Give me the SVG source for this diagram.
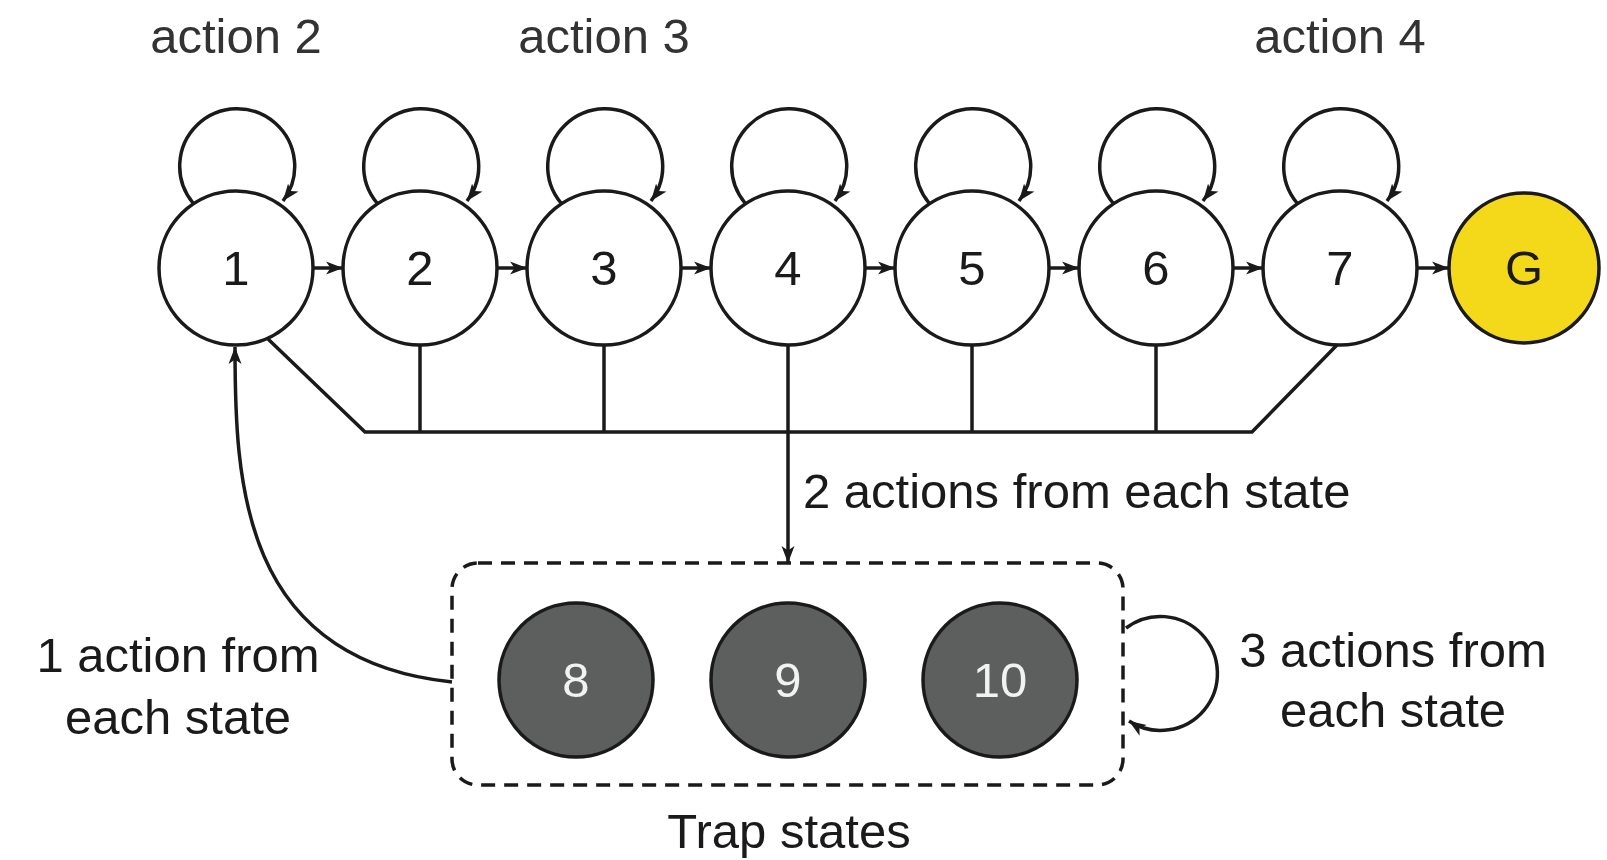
<svg xmlns="http://www.w3.org/2000/svg" width="1607" height="860" viewBox="0 0 1607 860">
<defs>
<marker id="arr" markerUnits="userSpaceOnUse" markerWidth="18" markerHeight="16" refX="17" refY="8" orient="auto" viewBox="0 0 18 16">
<path d="M0,1.5 L17,8 L0,14.5 L4.5,8 z" fill="#1a1a1a"/>
</marker>
<style>
.st{fill:#fff;stroke:#1a1a1a;stroke-width:3.5}
.goal{fill:#f4d81a;stroke:#1a1a1a;stroke-width:3.5}
.trap{fill:#5d5f5f;stroke:#1a1a1a;stroke-width:3.5}
.lbl{font-family:"Liberation Sans",Arial,sans-serif;font-size:49px;fill:#1a1a1a;text-anchor:middle}
.tl{font-family:"Liberation Sans",Arial,sans-serif;font-size:49px;fill:#f2f2f2;text-anchor:middle}
.txt{font-family:"Liberation Sans",Arial,sans-serif;font-size:49px;fill:#1a1a1a}
.top{font-family:"Liberation Sans",Arial,sans-serif;font-size:49px;fill:#333;text-anchor:middle}
.ln{fill:none;stroke:#1a1a1a;stroke-width:3.5}
.la{fill:none;stroke:#1a1a1a;stroke-width:3.5;marker-end:url(#arr)}
.box{fill:none;stroke:#1a1a1a;stroke-width:3.5;stroke-dasharray:14 9}
</style>
</defs>
<rect width="1607" height="860" fill="#fff"/>

<g id="top-labels">
<text class="top" x="236" y="53">action 2</text>
<text class="top" x="604" y="53">action 3</text>
<text class="top" x="1340" y="53">action 4</text>
</g>

<g id="connectors">
<path class="la" d="M193,203 A57.5,57.5 0 1 1 283,201"/>
<path class="la" d="M377,203 A57.5,57.5 0 1 1 467,201"/>
<path class="la" d="M561,203 A57.5,57.5 0 1 1 651,201"/>
<path class="la" d="M745,203 A57.5,57.5 0 1 1 835,201"/>
<path class="la" d="M929,203 A57.5,57.5 0 1 1 1019,201"/>
<path class="la" d="M1113,203 A57.5,57.5 0 1 1 1203,201"/>
<path class="la" d="M1297,203 A57.5,57.5 0 1 1 1387,201"/>
<path class="la" d="M313,268 L343,268"/>
<path class="la" d="M497,268 L527,268"/>
<path class="la" d="M681,268 L711,268"/>
<path class="la" d="M865,268 L895,268"/>
<path class="la" d="M1049,268 L1079,268"/>
<path class="la" d="M1233,268 L1263,268"/>
<path class="la" d="M1417,268 L1449,268"/>
<path class="ln" d="M268,339 L365,432 L1252,432 L1337,345"/>
<path class="ln" d="M420,345 L420,432"/>
<path class="ln" d="M604,345 L604,432"/>
<path class="ln" d="M972,345 L972,432"/>
<path class="ln" d="M1156,345 L1156,432"/>
<path class="la" d="M788,345 L788,563"/>
<path class="la" d="M452,682 C240,660 235,480 235,347"/>
<path class="la" d="M1126,628 A57,57 0 1 1 1129,721"/>
</g>

<g id="node-1"><circle class="st" cx="236" cy="268" r="77"/><text class="lbl" x="236" y="285">1</text></g>
<g id="node-2"><circle class="st" cx="420" cy="268" r="77"/><text class="lbl" x="420" y="285">2</text></g>
<g id="node-3"><circle class="st" cx="604" cy="268" r="77"/><text class="lbl" x="604" y="285">3</text></g>
<g id="node-4"><circle class="st" cx="788" cy="268" r="77"/><text class="lbl" x="788" y="285">4</text></g>
<g id="node-5"><circle class="st" cx="972" cy="268" r="77"/><text class="lbl" x="972" y="285">5</text></g>
<g id="node-6"><circle class="st" cx="1156" cy="268" r="77"/><text class="lbl" x="1156" y="285">6</text></g>
<g id="node-7"><circle class="st" cx="1340" cy="268" r="77"/><text class="lbl" x="1340" y="285">7</text></g>
<g id="node-G"><circle class="goal" cx="1524" cy="268" r="75"/><text class="lbl" x="1524" y="285">G</text></g>

<g id="trap-box">
<rect class="box" x="452" y="563" width="671" height="222" rx="26" ry="26"/>
<text class="lbl" x="789" y="848">Trap states</text>
</g>
<g id="node-8"><circle class="trap" cx="576" cy="680" r="77"/><text class="tl" x="576" y="697">8</text></g>
<g id="node-9"><circle class="trap" cx="788" cy="680" r="77"/><text class="tl" x="788" y="697">9</text></g>
<g id="node-10"><circle class="trap" cx="1000" cy="680" r="77"/><text class="tl" x="1000" y="697">10</text></g>

<g id="labels">
<text class="txt" x="803" y="508">2 actions from each state</text>
<text class="lbl" x="178" y="672">1 action from</text>
<text class="lbl" x="178" y="734">each state</text>
<text class="lbl" x="1393" y="667">3 actions from</text>
<text class="lbl" x="1393" y="727">each state</text>
</g>
</svg>
